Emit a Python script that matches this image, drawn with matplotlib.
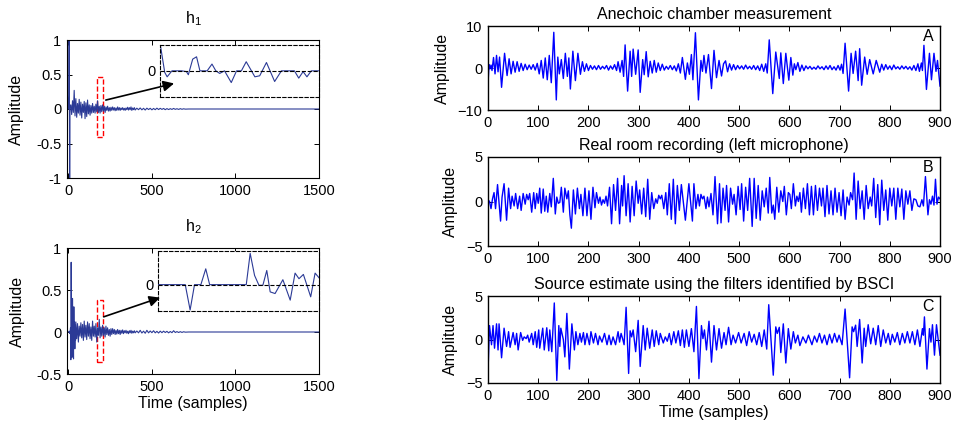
import numpy as np
import matplotlib.pyplot as plt
from matplotlib.patches import Rectangle

plt.rcParams['font.family'] = ['Liberation Sans', 'DejaVu Sans']
plt.rcParams['mathtext.fontset'] = 'custom'
plt.rcParams['mathtext.rm'] = 'Liberation Sans'

# ---- impulse responses (sample index, amplitude) ----
h1_t = [0, 3, 5, 8, 10,
        15, 20, 25, 30, 35, 40, 45, 50, 55, 60, 65, 70, 75, 80, 85, 90, 95, 100,
        105, 110, 115, 120, 125, 130, 135, 140, 145, 150, 155, 160, 165, 170, 175, 180,
        185, 190, 195, 200, 205, 210, 215, 220, 225, 230, 235, 240, 245, 250, 255, 260,
        265, 270, 275, 280, 285, 290, 295, 300, 305, 310, 315, 320, 325, 330, 335, 340,
        345, 350, 355, 360, 365, 370, 375, 380, 385, 390, 395, 400,
        410, 420, 430, 440, 450, 460, 470, 480, 490, 500, 510, 520, 530, 540, 550,
        560, 570, 580, 590, 600, 610, 620, 630, 640, 650, 660, 670, 680, 690, 700,
        720, 1500]
h1_v = [0, 0.2, 1.05, -1.05, 0.05,
        0.06, -0.08, 0.12, -0.05, 0.27, -0.1, 0.15, -0.12, 0.08, -0.06, 0.14, -0.09, 0.1, -0.13,
        0.07, -0.05, 0.11, -0.14,
        0.09, -0.11, 0.13, -0.07, 0.06, -0.09, 0.05, -0.06, 0.08, -0.05, 0.04, -0.06, 0.07, -0.04,
        0.12, -0.05,
        0.04, -0.06, 0.05, -0.04, 0.06, -0.03, 0.04, -0.05, 0.03, -0.02, 0.04, -0.03, 0.02, -0.03,
        0.025, -0.02,
        0.03, -0.015, 0.02, -0.025, 0.015, -0.02, 0.03, -0.015, 0.02, -0.02, 0.015, -0.01, 0.02,
        -0.015, 0.01, -0.02,
        0.015, -0.01, 0.025, -0.015, 0.02, -0.01, 0.03, -0.02, 0.015, -0.01, 0.02, -0.015,
        0.012, -0.01, 0.015, -0.012, 0.01, -0.015, 0.012, -0.008, 0.01, -0.012, 0.008, -0.01,
        0.012, -0.008, 0.01,
        -0.006, 0.008, -0.01, 0.006, -0.008, 0.005, -0.006, 0.008, -0.005, 0.004, -0.006, 0.005,
        -0.004, 0.003, -0.002,
        0, 0]

h2_t = [0, 5, 10, 13, 15, 17, 19, 21, 23, 25, 27, 29, 31, 33, 35, 37, 39, 41, 43, 45,
        50, 55, 60, 65, 70, 75, 80, 85, 90, 95, 100, 105, 110, 115, 120, 125, 130, 135,
        140, 145, 150, 155, 160, 165, 170, 175, 180, 185, 190, 195, 200, 205, 210, 215,
        220, 225, 230, 235, 240, 245, 250, 255, 260, 265, 270, 275, 280, 285, 290, 295,
        300, 305, 310, 315, 320, 325, 330, 335, 340, 345, 350, 355, 360, 365, 370, 375,
        380, 385, 390, 395, 400,
        410, 420, 430, 440, 450, 460, 470, 480, 490, 500, 510, 520, 530, 540, 550,
        560, 570, 580, 590, 600, 610, 620, 630, 640, 650, 660, 670, 680, 690, 700,
        720, 1500]
h2_v = [0, 0.01, -0.02, 0.05, -0.33, 0.83, -0.1, 0.2, -0.3, 0.4, -0.05, 0.1, -0.32, 0.3,
        -0.1, 0.12, -0.2, 0.08, -0.1, 0.12,
        -0.08, 0.1, -0.12, 0.07, -0.05, 0.11, -0.07, 0.09, -0.1, 0.13, -0.06, 0.08, -0.09,
        0.12, -0.05, 0.1, -0.08, 0.06,
        -0.1, 0.13, -0.05, 0.07, -0.06, 0.1, -0.12, 0.05, -0.04, 0.15, -0.07, 0.06, -0.05,
        0.08, -0.04, 0.05,
        -0.06, 0.07, -0.03, 0.05, -0.04, 0.03, -0.05, 0.04, -0.03, 0.04, -0.02, 0.03, -0.03,
        0.02, -0.025, 0.03,
        -0.02, 0.02, -0.03, 0.02, -0.015, 0.025, -0.02, 0.015, -0.01, 0.02, -0.015, 0.01,
        -0.02, 0.015, -0.01, 0.02,
        -0.015, 0.01, -0.01, 0.015, -0.01,
        0.012, -0.01, 0.02, -0.012, 0.01, -0.015, 0.02, -0.01, 0.012, -0.008, 0.015, -0.01,
        0.008, -0.012, 0.01,
        -0.008, 0.01, -0.006, 0.008, -0.01, 0.006, -0.008, 0.015, -0.006, 0.005, -0.006,
        0.004, -0.005, 0.003, -0.002,
        0, 0]

# zoomed views shown in the insets (offset in samples, scaled amplitude)
h1_zoom_t = [0.0, 1.0, 1.5, 2.5, 4.5, 5.5, 5.9, 6.8, 7.6, 8.3, 9.8, 10.8, 11.6, 12.4,
             13.4, 14.8, 15.9, 16.9, 17.9, 19.7, 20.7, 22.1, 23.8, 25.2, 27.9, 28.8,
             29.7, 30.5, 31.4, 33.0]
h1_zoom_v = [1.1, -0.06, -0.23, 0, 0, -0.03, -0.15, 0.45, 0.54, 0, 0, 0.26, 0, -0.1,
             0, -0.45, 0, 0, 0.35, -0.23, -0.19, 0.32, -0.41, 0, 0, -0.28,
             -0.03, -0.23, 0, 0]
h2_zoom_t = [0.0, 5.6, 6.6, 7.5, 8.8, 9.8, 10.6, 18.1, 18.9, 19.8, 20.7, 21.5, 22.3,
             23.0, 24.0, 25.6, 27.1, 28.1, 28.9, 29.8, 31.3, 32.2, 33.0]
h2_zoom_v = [0, 0, -0.77, 0, 0, 0.48, 0, 0, 0.95, 0.28, -0.02, -0.02, 0.43,
             -0.22, -0.27, 0.15, -0.47, 0.35, 0.18, 0.31, -0.37, 0.35, 0.21]

# ---- A: anechoic chamber measurement ----
a_t = [0, 2, 4, 6, 8, 11, 14, 17, 20, 23, 27, 33, 38, 42, 46, 50, 54, 58, 62, 66, 70, 74,
       78, 82, 86, 90, 94, 98, 102, 106, 110, 114, 118, 122, 126, 131, 136, 139, 142, 146,
       150, 154, 158, 161, 164, 169, 174, 179, 184, 188, 192, 196, 200, 204, 208, 212, 216,
       220, 224, 228, 232, 236, 240, 244, 248, 252, 256, 259, 263, 267, 270, 273, 278, 283,
       286, 289, 294, 299, 303, 308, 311, 315, 319, 323, 327, 331, 335, 339, 343, 347, 351,
       355, 359, 363, 367, 371, 375, 379, 383, 387, 393, 397, 401, 405, 408, 413, 419, 424,
       427, 430, 434, 439, 445, 450, 455, 460, 465, 469, 473, 477, 481, 485, 489, 493, 497,
       501, 505, 509, 513, 517, 521, 525, 529, 533, 537, 541, 545, 549, 553, 556, 560, 567,
       573, 580, 583, 588, 593, 599, 603, 607, 610, 613, 617, 621, 625, 629, 633, 637, 641,
       645, 649, 653, 657, 661, 665, 669, 673, 677, 681, 685, 689, 693, 697, 701, 704, 707,
       711, 718, 723, 727, 732, 737, 740, 744, 750, 755, 760, 767, 773, 780, 784, 788, 792,
       796, 800, 804, 808, 812, 816, 820, 824, 828, 832, 836, 840, 844, 848, 852, 856, 859,
       863, 865, 868, 873, 879, 883, 888, 892, 895, 900]
a_v = [-3.8, 0.8, -0.2, 0.7, -0.6, 2.5, -1.4, 3.0, -0.9, 2.6, -4.6, 3.5, -1.8, 2.2, -1.4,
       1.6, -1.0, 1.5, -0.8, 1.1, -0.6, 0.9, -0.4, 0.7, -0.3, 0.8, -0.5, 1.1, -1.4, 1.8,
       -2.4, 2.4, -2.8, 3.0, -3.5, 8.5, -7.6, 2.6, -1.4, 2.0, -2.5, 3.5, -2.0, 2.4, -5.0,
       4.0, -3.0, 3.5, -1.5, 1.5, -0.8, 1.0, -0.6, 0.6, -0.3, 0.5, -0.4, 0.6, -0.3, 0.4,
       -0.2, 0.6, -0.5, 0.5, -0.3, 0.8, -0.6, 1.5, -1.0, 1.8, -2.0, 5.5, -5.5, 4.0, -2.0,
       4.5, -1.5, 4.3, -5.8, 2.0, -1.6, 3.9, -2.1, 1.6, -1.2, 1.8, -1.0, 1.2, -0.6, 0.9,
       -0.5, 0.4, -0.3, 0.6, -0.4, 0.5, -0.7, 1.0, -1.2, 2.5, -2.7, 1.2, -1.5, 3.2, -2.8,
       8.4, -7.6, 1.8, -0.8, 3.0, -1.2, 3.2, -4.9, 4.2, -2.3, 1.8, -1.9, 1.0, 1.7, -0.9,
       1.0, -0.5, 0.8, -0.4, 0.6, -0.2, 0.5, -0.3, 0.7, -0.2, 0.4, -0.3, 0.6, -0.4, 0.5,
       -0.6, 0.9, -0.8, 1.0, -1.2, 6.7, -6.1, 3.8, -2.5, 3.6, -3.7, 3.5, -2.9, 2.5, -1.7,
       1.0, -0.4, 1.3, -0.8, 0.7, -0.6, 0.5, -0.2, 0.4, -0.3, 0.2, -0.3, 0.5, -0.2, 0.3,
       -0.4, 0.5, -0.3, 0.6, -0.4, 0.3, -0.5, 0.6, -0.5, 0.9, -1.3, 5.9, -5.5, 3.5, -1.3,
       4.0, -3.0, 4.6, -4.1, 2.6, -1.5, 2.0, -1.4, 1.8, -1.0, 0.9, -0.5, 0.8, -0.3, 0.5,
       -0.4, 0.7, -0.2, 0.3, -0.3, 0.5, -0.2, 0.4, -0.3, 0.3, -0.5, 0.6, -0.6, 1.0, -0.8,
       1.2, -0.6, 5.4, -5.1, 3.5, -2.8, 3.5, -0.8, 1.8, -4.3]

# ---- B: real room recording ----
b_t = [0, 3, 6, 9, 12, 15, 19, 25, 28, 32, 37, 41, 45, 48, 52, 55, 59, 63, 66, 70, 74, 77,
       80, 83, 87, 91, 94, 97, 100, 103, 106, 110, 113, 116, 119, 123, 126, 130, 134, 137,
       140, 143, 146, 150, 153, 157, 160, 163, 166, 170, 174, 178, 182, 185, 189, 193, 197,
       201, 205, 209, 213, 216, 220, 223, 226, 229, 232, 235, 238, 242, 246, 250, 254, 258,
       262, 266, 268, 271, 275, 279, 283, 287, 291, 295, 299, 302, 306, 310, 314, 318, 322,
       326, 330, 334, 337, 340, 343, 346, 350, 354, 357, 361, 365, 369, 373, 377, 381, 385,
       393, 400, 407, 410, 414, 418, 421, 424, 427, 430, 434, 437, 440, 444, 448, 452, 457,
       461, 464, 468, 472, 475, 479, 483, 487, 490, 494, 498, 502, 505, 509, 513, 517, 521,
       526, 530, 534, 538, 542, 546, 550, 554, 558, 561, 565, 568, 571, 575, 579, 583, 587,
       590, 594, 598, 601, 604, 608, 612, 615, 618, 621, 624, 628, 632, 636, 640, 644, 648,
       652, 656, 660, 664, 667, 671, 675, 679, 683, 687, 691, 695, 699, 703, 707, 711, 715,
       719, 722, 726, 729, 733, 737, 741, 745, 749, 753, 757, 761, 764, 768, 772, 776, 780,
       784, 788, 792, 796, 800, 804, 808, 812, 816, 820, 824, 828, 832, 836, 840, 844, 848,
       852, 856, 860, 864, 867, 871, 876, 879, 882, 885, 888, 891, 894, 897, 900]
b_v = [0.2, 0.0, -0.8, 0.3, 1.0, -0.8, 1.9, -2.2, 0.5, 2.0, -2.1, 1.5, -0.8, 0.6, -0.5,
       0.9, -0.8, 0.6, -1.0, 0.9, -0.3, 0.8, 0.2, 0.9, -1.2, 1.0, -0.8, 0.9, -0.2, 1.5,
       -1.3, 1.4, -1.1, 0.6, -1.2, 0.9, -0.6, 2.6, -1.4, 0.5, -0.2, -0.1, 1.6, -1.2, 1.5,
       0.3, 1.2, -1.5, -3.0, 1.3, -1.4, 1.5, -0.8, 0.8, -1.6, 1.5, -1.6, 1.2, -2.0, 1.6,
       -0.7, 1.0, -0.2, 0.5, -0.4, 0.2, -0.2, 0.6, -0.5, 1.6, -2.5, 1.9, -1.0, 2.6, -2.5,
       1.8, -0.5, 2.9, -1.6, 2.0, -2.3, 1.7, -1.6, 2.3, -0.2, 1.3, -1.4, 1.5, -1.7, 2.5,
       -2.0, 1.0, -0.8, 0.3, -0.2, 0.7, 0.3, 0.7, -0.8, 1.0, -1.5, 2.0, -2.0, 2.5, -2.5,
       1.8, -1.0, 1.9, -2.1, 2.0, -2.2, 2.0, -0.8, 0.8, -0.5, 0.8, 0.3, 0.6, -0.8, 0.5,
       -0.6, 0.9, -1.5, 2.8, -2.5, 2.0, -2.4, 1.5, -1.0, 1.8, -2.3, 1.5, -0.3, 0.8, -1.5,
       1.7, -0.9, 2.0, -2.2, 1.6, -1.0, 2.6, -2.8, 2.6, -1.9, 1.8, -2.1, 1.2, -0.6, 1.5,
       -1.3, 2.7, -1.3, -0.4, -2.0, 1.6, -1.2, 1.2, 0.0, 1.7, -1.5, 1.0, 0.8, -0.8, 2.0,
       -0.5, 0.6, 0.0, 1.0, -1.2, 1.5, -0.8, 2.0, -1.5, 1.7, -1.5, 1.8, -1.0, 1.5, -0.5,
       1.5, -1.7, 1.8, -1.4, 1.2, -1.5, 1.5, -1.2, 1.0, -1.6, 1.3, -2.0, 0.5, -0.4, 1.0,
       0.2, 3.2, -2.0, 2.3, -0.8, 1.2, -2.0, 1.8, -0.8, 0.5, -0.5, 2.6, -1.8, 1.9, -2.6,
       2.4, -1.0, 1.3, -2.1, 1.5, -0.5, 1.5, -2.0, 1.5, -0.6, 1.4, -2.0, 1.2, -0.3, 1.2,
       -1.0, 0.3, 0.2, -0.5, -0.6, 0.2, -0.5, 2.8, -1.5, 0.2, -0.3, 0.6, -0.4, 2.5, -0.3,
       0.5, 0.3]

# ---- C: source estimate (BSCI) ----
c_t = [0, 3, 7, 10, 13, 17, 20, 22, 27, 32, 37, 41, 44, 50, 54, 57, 60, 65, 69, 72, 76,
       79, 82, 87, 90, 94, 97, 101, 103, 109, 112, 117, 121, 123, 127, 132, 137, 141, 143,
       145, 150, 153, 157, 162, 167, 172, 175, 179, 183, 186, 190, 193, 197, 202, 205, 210,
       214, 219, 222, 227, 232, 237, 241, 245, 249, 254, 259, 262, 265, 268, 271, 275, 280,
       283, 286, 289, 294, 299, 303, 309, 313, 317, 322, 327, 331, 335, 340, 343, 349, 353,
       357, 361, 365, 370, 374, 379, 383, 387, 391, 395, 400, 405, 410, 415, 420, 425, 428,
       431, 435, 440, 445, 450, 455, 460, 465, 470, 474, 479, 484, 488, 493, 499, 504, 510,
       515, 520, 525, 530, 535, 540, 545, 550, 555, 559, 568, 573, 576, 580, 583, 588, 593,
       598, 603, 608, 612, 617, 621, 627, 633, 638, 645, 650, 655, 660, 665, 670, 675, 680,
       685, 690, 695, 699, 705, 711, 720, 725, 728, 732, 735, 740, 745, 749, 752, 757, 762,
       767, 772, 777, 782, 787, 792, 797, 801, 805, 810, 815, 820, 825, 830, 835, 840, 845,
       850, 855, 860, 865, 867, 869, 874, 879, 882, 885, 889, 893, 900]
c_v = [-3.7, 1.6, -0.6, 1.6, -1.0, 1.8, -1.2, 1.8, -2.1, 1.3, -0.8, 0.9, -0.9, 0.8, -0.6,
       0.7, -1.2, 0.8, -0.1, 0.3, 0.1, 0.5, -0.3, 0.7, -0.6, 0.9, -0.9, 1.1, -1.0, 1.3,
       -1.2, 1.35, -1.3, 1.1, -1.4, 4.2, -4.7, 1.6, -0.8, 1.3, 0.0, -2.0, 3.0, -3.4, 1.8,
       -1.2, 0.9, -0.6, 0.7, -0.3, 0.8, -0.6, 0.7, -0.6, 0.9, -0.4, 0.7, -0.6, 0.4, -0.3,
       0.7, -0.6, 0.5, -0.6, 0.3, -0.6, 0.9, -0.3, 0.7, 0.1, -0.6, 3.7, -3.9, 1.0, 0.3,
       1.1, -1.4, 2.2, -3.1, 1.6, -1.2, 1.3, -1.0, 1.1, -0.8, 1.0, -0.6, 0.7, -0.4, 0.3,
       -0.2, 0.7, -0.6, 0.9, -0.4, 1.0, -0.7, 1.1, -0.9, 1.1, -0.8, 1.25, -1.4, 3.8, -4.5,
       1.6, 0.1, 1.1, -1.2, 2.1, -2.6, 1.6, -1.2, 1.25, -1.0, 0.8, -0.6, 1.4, -0.6, 0.5,
       -0.4, 0.8, -0.4, 0.7, -0.7, 0.9, -0.3, 0.6, -0.6, 0.8, -0.8, 1.1, -1.1, 4.0, -4.1,
       1.45, 0.7, 1.4, -1.5, 1.8, -2.7, 1.25, -1.1, 0.9, -0.4, 0.5, -0.7, 0.3, -0.4, 0.5,
       -0.6, 0.4, -0.3, 0.7, -0.4, 0.5, -0.6, 0.6, -0.4, 0.7, -0.3, 0.5, -0.6, 3.5, -4.4,
       1.45, 0.9, 1.65, -0.8, 2.3, -2.7, 1.3, -0.8, 1.7, -0.5, 1.3, -0.6, 1.6, -0.8, 1.1,
       -0.4, 0.7, -0.6, 0.6, -0.3, 0.8, -0.6, 0.7, -0.4, 0.9, -0.4, 0.9, -0.6, 1.1, -0.8,
       1.25, 0.5, 2.6, -3.4, 1.25, -0.3, 1.7, -1.8, 1.7, -1.8]

h_color = '#2b3a96'
sig_color = '#0000ff'
W, H = 956, 426


def px_box(left, top, right, bottom):
    return [left / W, 1 - bottom / H, (right - left) / W, (bottom - top) / H]


def matlab_ticks(ax, lw=0.8):
    ax.tick_params(direction='in', top=True, right=True, length=3.5, width=0.7,
                   labelsize=10.5, pad=4)
    for s in ax.spines.values():
        s.set_linewidth(lw)


def dashed_frame(ax):
    ax.axhline(0, color='k', ls='--', lw=0.8)
    ax.set_xlim(0, 33)
    ax.set_xticks([])
    ax.set_yticks([0])
    ax.set_yticklabels(['0'])
    ax.tick_params(length=0, labelsize=10.5, pad=3)
    for s in ax.spines.values():
        s.set_linestyle((0, (3, 2)))
        s.set_linewidth(0.8)
        s.set_color('k')


fig = plt.figure(figsize=(9.56, 4.26), dpi=100)

# ---- left column: identified filters ----
ax1 = fig.add_axes(px_box(67, 40, 319, 178))
ax1.plot(h1_t, h1_v, color=h_color, lw=0.8)
ax1.set_xlim(-8, 1500)
ax1.set_ylim(-1, 1)
ax1.set_xticks([0, 500, 1000, 1500])
ax1.set_yticks([-1, -0.5, 0, 0.5, 1])
ax1.set_yticklabels(['-1', '-0.5', '0', '0.5', '1'])
ax1.set_ylabel('Amplitude', fontsize=11.5, labelpad=9)
ax1.set_title('h$_\\mathregular{1}$', fontsize=11.5, pad=12)
matlab_ticks(ax1)
ax1.add_patch(Rectangle((171, -0.41), 39, 0.88, fill=False, ec='red', ls='--', lw=1.0))

in1 = ax1.inset_axes([548, 0.18, 952, 0.75], transform=ax1.transData)
in1.plot(h1_zoom_t, h1_zoom_v, color=h_color, lw=0.8)
in1.set_ylim(-0.99, 1.0)
dashed_frame(in1)
ax1.annotate('', xy=(649, 0.38), xytext=(208, 0.12), zorder=10,
             arrowprops=dict(arrowstyle='-|>', color='k', lw=1.2, mutation_scale=16))

ax2 = fig.add_axes(px_box(67, 248, 319, 374))
ax2.plot(h2_t, h2_v, color=h_color, lw=0.8)
ax2.set_xlim(-8, 1500)
ax2.set_ylim(-0.5, 1)
ax2.set_xticks([0, 500, 1000, 1500])
ax2.set_yticks([-0.5, 0, 0.5, 1])
ax2.set_yticklabels(['-0.5', '0', '0.5', '1'])
ax2.set_ylabel('Amplitude', fontsize=11.5, labelpad=8)
ax2.set_xlabel('Time (samples)', fontsize=11.5, labelpad=2)
ax2.set_title('h$_\\mathregular{2}$', fontsize=11.5, pad=12)
matlab_ticks(ax2)
ax2.add_patch(Rectangle((171, -0.36), 39, 0.74, fill=False, ec='red', ls='--', lw=1.0))

in2 = ax2.inset_axes([536, 0.25, 964, 0.71], transform=ax2.transData)
in2.plot(h2_zoom_t, h2_zoom_v, color=h_color, lw=0.8)
in2.set_ylim(-0.8, 1.01)
dashed_frame(in2)
ax2.annotate('', xy=(565, 0.42), xytext=(196, 0.17), zorder=10,
             arrowprops=dict(arrowstyle='-|>', color='k', lw=1.2, mutation_scale=16))

# ---- right column: signals ----
panels = [
    (a_t, a_v, 'Anechoic chamber measurement', 'A', 10, px_box(488, 26, 940, 110)),
    (b_t, b_v, 'Real room recording (left microphone)', 'B', 5, px_box(488, 157, 940, 246)),
    (c_t, c_v, 'Source estimate using the filters identified by BSCI', 'C', 5,
     px_box(488, 296, 940, 383)),
]
for t, v, title, letter, lim, box in panels:
    ax = fig.add_axes(box)
    ax.plot(t, v, color=sig_color, lw=1.0)
    ax.set_xlim(0, 900)
    ax.set_ylim(-lim, lim)
    ax.set_xticks(range(0, 901, 100))
    ax.set_yticks([-lim, 0, lim])
    ax.set_ylabel('Amplitude', fontsize=11.5, labelpad=5.5 if lim == 10 else 5.5)
    ax.set_title(title, fontsize=11.5, pad=5)
    ax.text(0.973, 0.88, letter, transform=ax.transAxes, ha='center', va='center',
            fontsize=11.5)
    matlab_ticks(ax, lw=1.0)
    if letter == 'C':
        ax.set_xlabel('Time (samples)', fontsize=11.5, labelpad=2)

fig.savefig('out.png', dpi=100)
